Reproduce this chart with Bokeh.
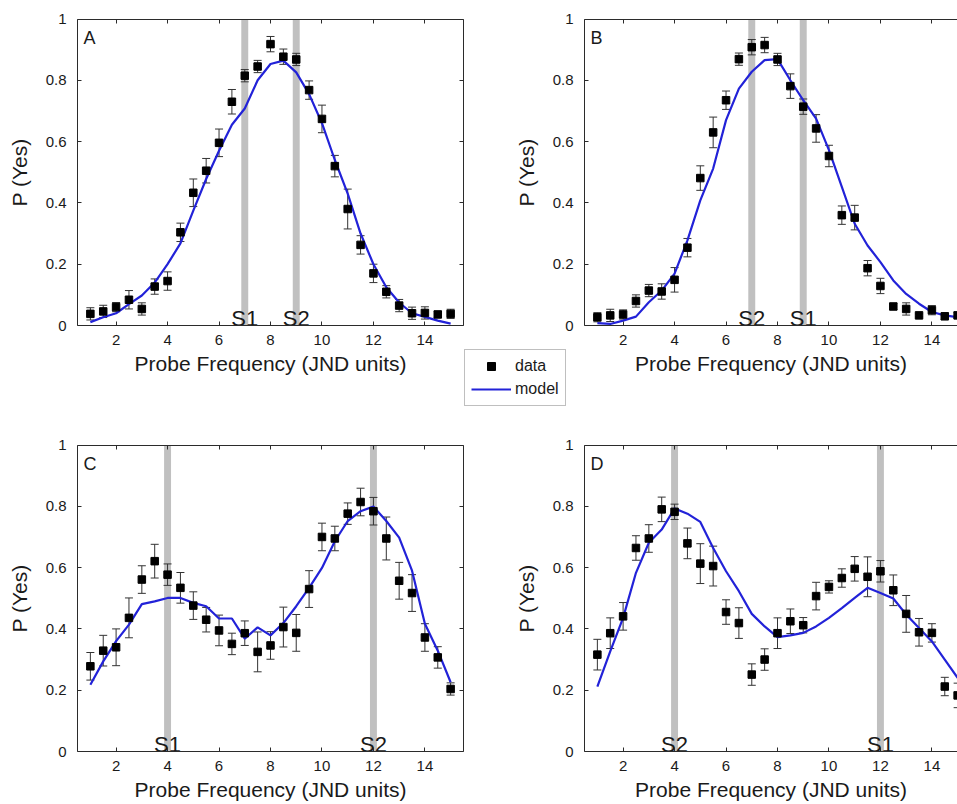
from bokeh.plotting import figure
from bokeh.models import (LinearAxis, FixedTicker, Legend, LegendItem, Label, Range1d,
                          CustomJSTickFormatter)
from bokeh.embed import file_html
from bokeh.resources import INLINE

# ---------------- data ----------------
probe = [1, 1.5, 2, 2.5, 3, 3.5, 4, 4.5, 5, 5.5, 6, 6.5, 7, 7.5, 8,
         8.5, 9, 9.5, 10, 10.5, 11, 11.5, 12, 12.5, 13, 13.5, 14, 14.5, 15]

a_data = [0.038, 0.046, 0.060, 0.084, 0.054, 0.127, 0.145, 0.304, 0.433, 0.505, 0.596, 0.730, 0.815, 0.845, 0.918,
          0.877, 0.868, 0.768, 0.674, 0.520, 0.380, 0.263, 0.170, 0.110, 0.065, 0.040, 0.041, 0.036, 0.038]
a_err = [0.02, 0.02, 0.015, 0.03, 0.02, 0.025, 0.03, 0.03, 0.045, 0.04, 0.045, 0.04, 0.02, 0.02, 0.025,
         0.025, 0.02, 0.03, 0.045, 0.035, 0.065, 0.03, 0.03, 0.02, 0.02, 0.02, 0.02, 0.01, 0.015]
a_model = [0.011, 0.027, 0.040, 0.070, 0.098, 0.140, 0.200, 0.268, 0.375, 0.478, 0.570, 0.655, 0.708, 0.800, 0.853,
           0.864, 0.826, 0.755, 0.660, 0.540, 0.430, 0.300, 0.200, 0.125, 0.075, 0.040, 0.028, 0.016, 0.006]

b_data = [0.027, 0.033, 0.036, 0.080, 0.114, 0.111, 0.149, 0.254, 0.481, 0.630, 0.735, 0.869, 0.908, 0.915, 0.868,
          0.781, 0.714, 0.643, 0.553, 0.360, 0.352, 0.187, 0.129, 0.062, 0.054, 0.033, 0.050, 0.030, 0.033]
b_err = [0.015, 0.02, 0.015, 0.02, 0.02, 0.025, 0.04, 0.03, 0.04, 0.05, 0.03, 0.02, 0.025, 0.025, 0.02,
         0.04, 0.025, 0.045, 0.035, 0.03, 0.04, 0.025, 0.025, 0.01, 0.02, 0.005, 0.015, 0.01, 0.01]
b_model = [0.008, 0.005, 0.016, 0.029, 0.076, 0.114, 0.169, 0.278, 0.408, 0.512, 0.670, 0.773, 0.828, 0.866, 0.869,
           0.800, 0.735, 0.675, 0.572, 0.452, 0.332, 0.261, 0.207, 0.147, 0.103, 0.071, 0.044, 0.033, 0.027]

c_data = [0.278, 0.329, 0.340, 0.436, 0.561, 0.621, 0.577, 0.534, 0.476, 0.430, 0.395, 0.351, 0.386, 0.325, 0.346,
          0.406, 0.387, 0.530, 0.700, 0.695, 0.776, 0.814, 0.784, 0.695, 0.557, 0.517, 0.372, 0.307, 0.204]
c_err = [0.045, 0.05, 0.06, 0.065, 0.045, 0.055, 0.035, 0.05, 0.045, 0.04, 0.05, 0.035, 0.04, 0.065, 0.045,
         0.065, 0.06, 0.06, 0.045, 0.04, 0.035, 0.045, 0.045, 0.07, 0.06, 0.06, 0.045, 0.035, 0.02]
c_model = [0.218, 0.294, 0.360, 0.414, 0.481, 0.490, 0.501, 0.501, 0.485, 0.474, 0.434, 0.434, 0.368, 0.405, 0.379,
           0.419, 0.474, 0.534, 0.599, 0.686, 0.752, 0.784, 0.799, 0.752, 0.698, 0.590, 0.417, 0.329, 0.226]

d_data = [0.316, 0.386, 0.441, 0.664, 0.695, 0.790, 0.782, 0.679, 0.613, 0.605, 0.455, 0.419, 0.251, 0.300, 0.386,
          0.425, 0.412, 0.507, 0.537, 0.566, 0.596, 0.570, 0.588, 0.526, 0.449, 0.389, 0.387, 0.212, 0.183]
d_err = [0.05, 0.05, 0.045, 0.04, 0.045, 0.04, 0.025, 0.05, 0.065, 0.065, 0.04, 0.05, 0.035, 0.035, 0.05,
         0.04, 0.025, 0.045, 0.02, 0.03, 0.04, 0.065, 0.035, 0.05, 0.06, 0.045, 0.03, 0.03, 0.04]
d_model = [0.212, 0.327, 0.436, 0.583, 0.681, 0.724, 0.793, 0.776, 0.749, 0.664, 0.588, 0.523, 0.449, 0.408, 0.373,
           0.379, 0.387, 0.408, 0.436, 0.468, 0.501, 0.534, 0.517, 0.499, 0.447, 0.403, 0.359, 0.300, 0.240]

a_stims, a_stim_labels = [7, 9], ["S1", "S2"]
b_stims, b_stim_labels = [7, 9], ["S2", "S1"]
c_stims, c_stim_labels = [4, 12], ["S1", "S2"]
d_stims, d_stim_labels = [4, 12], ["S2", "S1"]

x_ticks = [2, 4, 6, 8, 10, 12, 14]
y_ticks = [0, 0.2, 0.4, 0.6, 0.8, 1]
y_tick_overrides = {0: "0", 1: "1"}
x_label = "Probe Frequency (JND units)"
y_label = "P (Yes)"

# ---------------- layout / style ----------------
W, H = 957, 804
X_LIM = (0.5, 15.5)
Y_LIM = (0.0, 1.0)
# panel frames in screen pixels: (left, right, top, bottom), measured from the top-left
FRAMES = {
    "A": (77, 463, 18.5, 325),
    "B": (584, 970, 18.5, 325),
    "C": (77, 463, 444.5, 751),
    "D": (584, 970, 444.5, 751),
}
FONT = "Liberation Sans"
AX = "#2b2b2b"
TXT = "#1a1a1a"
BLUE = "#2222d8"
BAND = "#c0c0c0"
ERR = "#333333"


def full_range(d0, d1, p0, p1, total):
    s = (d1 - d0) / (p1 - p0)
    return Range1d(d0 - p0 * s, d0 + (total - p0) * s)


p = figure(width=W, height=H, output_backend="svg", toolbar_location=None,
           x_axis_location=None, y_axis_location=None,
           min_border_left=0, min_border_right=0, min_border_top=0, min_border_bottom=0)
p.grid.visible = False
p.outline_line_color = None
p.background_fill_color = "white"
p.border_fill_color = "white"

for name, (l, r, t, b) in FRAMES.items():
    p.extra_x_ranges[name] = full_range(X_LIM[0], X_LIM[1], l, r, W)
    p.extra_y_ranges[name] = full_range(Y_LIM[0], Y_LIM[1], H - b, H - t, H)
p.x_range = full_range(X_LIM[0], X_LIM[1], FRAMES["A"][0], FRAMES["A"][1], W)
p.y_range = full_range(Y_LIM[0], Y_LIM[1], H - FRAMES["A"][3], H - FRAMES["A"][2], H)


def style_axis(ax, labelled):
    ax.major_tick_in = 4
    ax.major_tick_out = 0
    ax.minor_tick_in = 0
    ax.minor_tick_out = 0
    ax.axis_line_color = AX
    ax.major_tick_line_color = AX
    ax.major_label_text_font = FONT
    ax.major_label_text_color = TXT
    ax.axis_label_text_font = FONT
    ax.axis_label_text_font_size = "21px"
    ax.axis_label_text_font_style = "normal"
    ax.axis_label_text_color = TXT
    if labelled:
        ax.major_label_text_font_size = "15px"
    else:
        ax.formatter = CustomJSTickFormatter(code="return ''")
        ax.major_label_text_font_size = "1px"
        ax.major_label_standoff = 0


def add_panel(name, letter, data, err, model, stims, stim_labels, right_axis):
    rn = dict(x_range_name=name, y_range_name=name)

    bottom = LinearAxis(ticker=FixedTicker(ticks=x_ticks), fixed_location=Y_LIM[0],
                        bounds=X_LIM, axis_label=x_label, **rn)
    style_axis(bottom, True)
    bottom.major_label_standoff = 9
    bottom.axis_label_standoff = 4
    p.add_layout(bottom, "below")

    top = LinearAxis(ticker=FixedTicker(ticks=x_ticks), fixed_location=Y_LIM[1], bounds=X_LIM, **rn)
    style_axis(top, False)
    p.add_layout(top, "above")

    left = LinearAxis(ticker=FixedTicker(ticks=y_ticks), fixed_location=X_LIM[0],
                      bounds=Y_LIM, axis_label=y_label, **rn)
    style_axis(left, True)
    left.major_label_standoff = 11
    left.axis_label_standoff = 12
    left.major_label_overrides = y_tick_overrides
    p.add_layout(left, "left")

    if right_axis:
        right = LinearAxis(ticker=FixedTicker(ticks=y_ticks), fixed_location=X_LIM[1], bounds=Y_LIM, **rn)
        style_axis(right, False)
        p.add_layout(right, "right")

    # stimulus bands and labels
    p.vbar(x=stims, width=0.27, top=Y_LIM[1], bottom=Y_LIM[0], fill_color=BAND, line_color=None, **rn)
    p.text(x=stims, y=[0.022] * len(stims), text=stim_labels, text_align="center",
           text_baseline="alphabetic", text_font_size="22px", text_color=TXT,
           text_font={"value": FONT}, **rn)

    lo = [v - e for v, e in zip(data, err)]
    hi = [v + e for v, e in zip(data, err)]
    p.segment(x0=probe, y0=lo, x1=probe, y1=hi, line_color=ERR, line_width=1, **rn)
    p.scatter(x=probe, y=lo, marker="dash", size=8, line_color=ERR, line_width=1, **rn)
    p.scatter(x=probe, y=hi, marker="dash", size=8, line_color=ERR, line_width=1, **rn)

    ln = p.line(x=probe, y=model, line_color=BLUE, line_width=2.2, **rn)
    sc = p.scatter(x=probe, y=data, marker="square", size=7.5, fill_color="black",
                   line_color="black", **rn)

    p.add_layout(Label(x=0.73, y=0.972, text=letter, text_baseline="top", text_align="left",
                       text_font=FONT, text_font_size="18px", text_color=TXT, **rn))
    return sc, ln


add_panel("A", "A", a_data, a_err, a_model, a_stims, a_stim_labels, True)
sc_b, ln_b = add_panel("B", "B", b_data, b_err, b_model, b_stims, b_stim_labels, False)
add_panel("C", "C", c_data, c_err, c_model, c_stims, c_stim_labels, True)
add_panel("D", "D", d_data, d_err, d_model, d_stims, d_stim_labels, False)

legend = Legend(items=[LegendItem(label="data", renderers=[sc_b]),
                       LegendItem(label="model", renderers=[ln_b])],
                location=(464, H - 406))
legend.label_text_font = FONT
legend.label_text_font_size = "16px"
legend.label_text_color = TXT
legend.glyph_width = 40
legend.glyph_height = 20
legend.label_standoff = 4
legend.padding = 6
legend.spacing = 3
legend.margin = 0
legend.border_line_color = "#808080"
legend.border_line_width = 1
legend.background_fill_color = "white"
legend.background_fill_alpha = 1
p.add_layout(legend)

with open("out.html", "w") as f:
    f.write(file_html(p, INLINE))
